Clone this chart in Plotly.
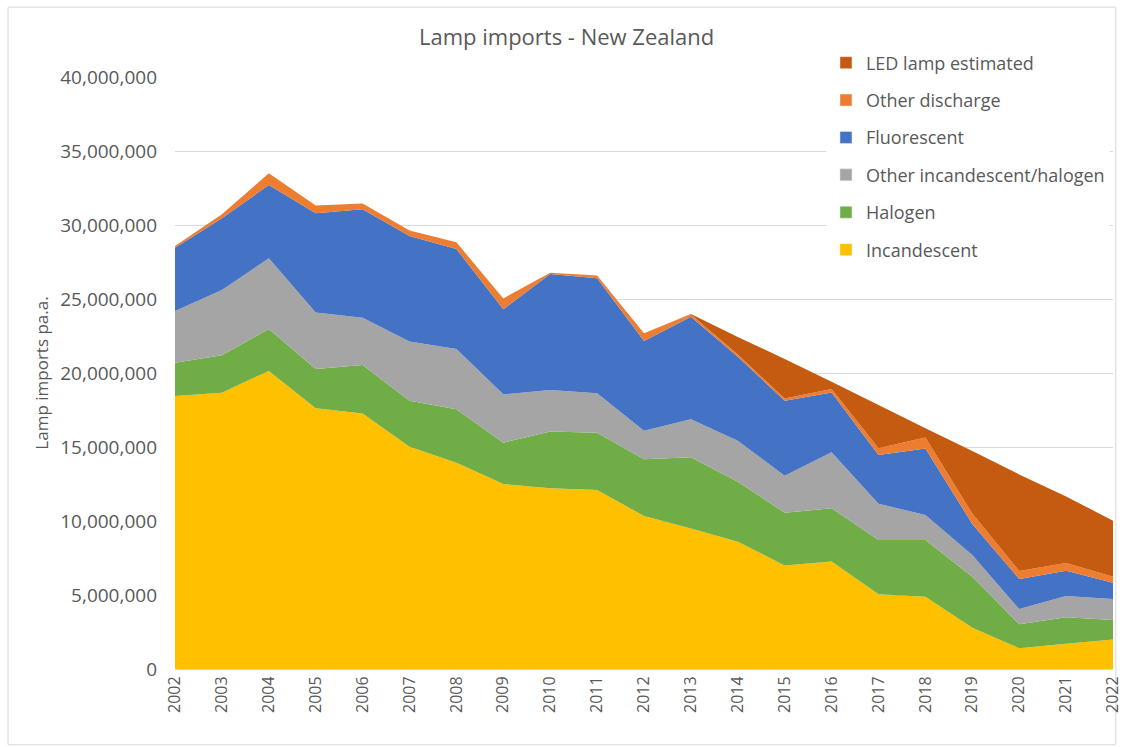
import plotly.graph_objs as go

years = list(range(2002, 2023))

incandescent = [18.45, 18.67, 20.14, 17.61, 17.27, 15.02, 13.94, 12.50, 12.21, 12.09, 10.34,
                9.50, 8.60, 7.00, 7.26, 5.05, 4.89, 2.79, 1.40, 1.71, 2.00]
halogen = [2.25, 2.53, 2.83, 2.66, 3.27, 3.11, 3.61, 2.79, 3.83, 3.88, 3.83,
           4.80, 4.06, 3.56, 3.60, 3.67, 3.83, 3.45, 1.62, 1.78, 1.31]
other_incandescent = [3.49, 4.40, 4.78, 3.81, 3.20, 3.99, 4.07, 3.27, 2.81, 2.66, 1.93,
                      2.57, 2.77, 2.50, 3.78, 2.45, 1.68, 1.46, 1.03, 1.44, 1.42]
fluorescent = [4.28, 4.85, 4.95, 6.71, 7.32, 7.14, 6.76, 5.74, 7.84, 7.77, 6.06,
               6.93, 5.67, 5.07, 4.05, 3.29, 4.50, 2.10, 2.03, 1.71, 1.10]
other_discharge = [0.11, 0.27, 0.79, 0.52, 0.40, 0.36, 0.45, 0.74, 0.09, 0.18, 0.52,
                   0.15, 0.15, 0.14, 0.23, 0.45, 0.75, 0.70, 0.54, 0.52, 0.41]
led_estimated = [0, 0, 0, 0, 0, 0, 0, 0, 0, 0, 0,
                 0.04, 1.19, 2.68, 0.49, 2.93, 0.61, 4.23, 6.53, 4.50, 3.78]

series = [
    ("Incandescent", incandescent, "#FFC000"),
    ("Halogen", halogen, "#70AD47"),
    ("Other incandescent/halogen", other_incandescent, "#A5A5A5"),
    ("Fluorescent", fluorescent, "#4472C4"),
    ("Other discharge", other_discharge, "#ED7D31"),
    ("LED lamp estimated", led_estimated, "#C55A11"),
]

font = "'Open Sans', Lato, sans-serif"
grey = "#595959"

fig = go.Figure()

for i, (name, vals, color) in enumerate(series):
    fig.add_trace(
        go.Scatter(
            x=years,
            y=[v * 1e6 for v in vals],
            name=name,
            mode="none",
            stackgroup="lamps",
            fillcolor=color,
            showlegend=False,
            hoverinfo="x+y+name",
        )
    )
    # legend-only entry so the key shows a small square like the original
    fig.add_trace(
        go.Bar(
            x=[None],
            y=[None],
            name=name,
            marker=dict(color=color),
            legendrank=len(series) - i,
            legendgroup=name,
        )
    )

fig.update_layout(
    width=1122,
    height=747,
    paper_bgcolor="white",
    plot_bgcolor="white",
    margin=dict(l=175, r=9, t=77, b=78),
    title=dict(
        text="Lamp imports - New Zealand",
        x=0.505,
        xanchor="center",
        y=0.95,
        yanchor="middle",
        font=dict(family=font, size=22, color=grey),
    ),
    font=dict(family=font, color=grey),
    showlegend=True,
    legend=dict(
        x=0.694,
        y=1.055,
        xanchor="left",
        yanchor="top",
        traceorder="grouped",
        tracegroupgap=11,
        bgcolor="rgba(255,255,255,1)",
        font=dict(family=font, size=18, color=grey),
    ),
    xaxis=dict(
        range=[2002, 2022],
        tickvals=years,
        ticktext=[str(y) for y in years],
        tickangle=-90,
        tickfont=dict(family=font, size=16, color=grey),
        ticklabeloverflow="allow",
        automargin=False,
        showgrid=False,
        showline=True,
        linecolor="#D9D9D9",
        ticks="",
    ),
    yaxis=dict(
        range=[0, 40e6],
        tickvals=[i * 5e6 for i in range(9)],
        tickformat=",d",
        tickfont=dict(family=font, size=19, color=grey),
        ticklabelstandoff=17,
        gridcolor="#D9D9D9",
        gridwidth=1,
        zeroline=False,
        ticks="",
        title=dict(text="Lamp imports pa.a.", font=dict(family=font, size=17, color=grey), standoff=7),
    ),
    shapes=[
        dict(
            type="rect",
            xref="paper",
            yref="paper",
            x0=-0.178,
            x1=1.003,
            y0=-0.128,
            y1=1.118,
            line=dict(color="#D9D9D9", width=1),
            layer="below",
        )
    ],
)

fig.write_html(
    "out.html",
    config={"displayModeBar": False},
    post_script="document.body.style.margin='0';",
)
